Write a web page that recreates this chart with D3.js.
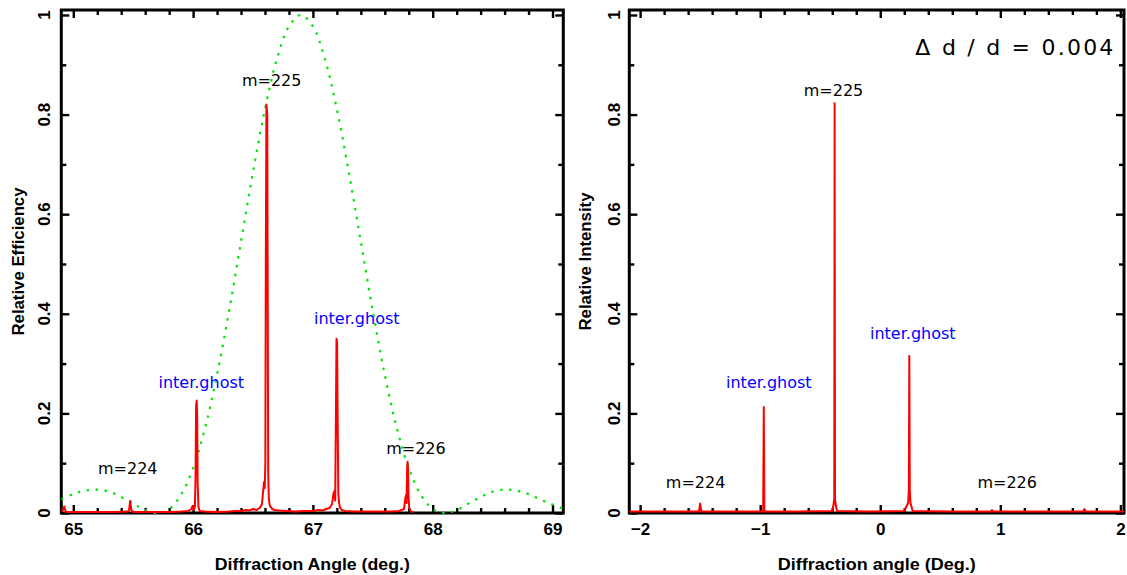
<!DOCTYPE html>
<html>
<head>
<meta charset="utf-8">
<script src="https://cdn.jsdelivr.net/npm/d3@7"></script>
<style>
  html, body { margin: 0; padding: 0; background: #fff; }
  svg { display: block; }
</style>
</head>
<body>
<svg id="chart" width="1127" height="575"></svg>
<script>
// ---------- Left panel: measured efficiency (angle in deg., relative efficiency) ----------
const efficiencyTrace = [
  [64.900,0.003],[64.915,0.006],[64.925,0.013],[64.935,0.004],[64.950,0.002],
  [65.05,0.002],[65.15,0.002],[65.25,0.002],[65.35,0.002],[65.45,0.003],
  [65.465,0.005],[65.475,0.024],[65.485,0.006],[65.50,0.002],
  [65.60,0.002],[65.70,0.002],[65.80,0.002],[65.90,0.003],[65.96,0.004],
  [65.985,0.008],[65.995,0.014],[66.005,0.006],[66.015,0.012],[66.021,0.08],
  [66.025,0.215],[66.030,0.226],[66.034,0.20],[66.038,0.06],[66.045,0.012],[66.055,0.004],
  [66.10,0.003],[66.20,0.002],[66.30,0.003],[66.35,0.004],[66.40,0.004],[66.44,0.006],
  [66.47,0.005],[66.50,0.008],[66.53,0.006],[66.56,0.011],[66.575,0.018],[66.585,0.045],
  [66.592,0.062],[66.598,0.05],[66.603,0.10],[66.607,0.50],[66.612,0.82],[66.619,0.80],
  [66.623,0.42],[66.627,0.08],[66.632,0.03],[66.640,0.015],[66.650,0.012],[66.660,0.008],
  [66.68,0.006],[66.72,0.005],[66.78,0.004],[66.85,0.003],[66.92,0.004],[67.00,0.004],
  [67.05,0.006],[67.08,0.005],[67.11,0.008],[67.14,0.010],[67.16,0.018],[67.172,0.040],
  [67.180,0.044],[67.186,0.025],[67.192,0.19],[67.197,0.35],[67.202,0.34],[67.207,0.18],
  [67.212,0.04],[67.218,0.022],[67.225,0.012],[67.24,0.006],[67.27,0.004],[67.35,0.003],
  [67.45,0.003],[67.55,0.003],[67.65,0.003],[67.72,0.004],[67.76,0.008],[67.772,0.030],
  [67.778,0.036],[67.782,0.020],[67.786,0.085],[67.790,0.103],[67.794,0.090],[67.798,0.035],
  [67.804,0.010],[67.815,0.004],[67.83,0.002],[67.84,0.002]
];

// Single-slit blaze envelope (dotted green), sampled every 0.1 deg.
const envelopeAngles = [
  64.9,65.0,65.1,65.2,65.3,65.4,65.5,65.6,65.7,65.8,65.9,66.0,66.1,66.2,66.3,66.4,66.5,
  66.6,66.7,66.8,66.9,67.0,67.1,67.2,67.3,67.4,67.5,67.6,67.7,67.8,67.9,68.0,68.1,68.2,
  68.3,68.4,68.5,68.6,68.7,68.8,68.9,69.0,69.1
];
const envelopeValues = [
  0.027,0.038,0.045,0.047,0.043,0.032,0.019,0.006,0.000,0.008,0.037,0.090,0.171,0.278,
  0.405,0.545,0.684,0.811,0.912,0.977,1.000,0.977,0.912,0.811,0.684,0.545,0.405,0.278,
  0.171,0.090,0.037,0.008,0.000,0.006,0.019,0.032,0.043,0.047,0.045,0.038,0.027,0.017,0.008
];

// ---------- Right panel: simulated intensity for Δd/d = 0.004 ----------
const intensityTrace = [
  [-2.09,0.003],[-1.80,0.003],[-1.51,0.003],[-1.50,0.019],[-1.49,0.003],
  [-1.20,0.003],[-0.975,0.003],[-0.970,0.213],[-0.965,0.003],
  [-0.70,0.003],[-0.40,0.004],[-0.390,0.015],[-0.383,0.030],[-0.380,0.823],
  [-0.377,0.030],[-0.370,0.015],[-0.360,0.004],
  [-0.10,0.003],[0.20,0.004],[0.232,0.020],[0.238,0.045],[0.242,0.315],[0.246,0.045],
  [0.252,0.020],[0.270,0.004],
  [0.60,0.003],[0.92,0.003],[0.93,0.006],[0.94,0.003],
  [1.30,0.003],[1.69,0.003],[1.70,0.008],[1.71,0.003],[2.03,0.003]
];

// Axis ticks
const leftMajor = [65, 66, 67, 68, 69];
const rightMajor = [-2, -1, 0, 1, 2];
const yMajor = [0, 0.2, 0.4, 0.6, 0.8, 1];
const yMinor = [0.1, 0.3, 0.5, 0.7, 0.9];

// Peak annotations (anchored in data units)
const leftNotes = [
  { text: "m=224", x: 65.455, y: 0.078, color: "#000" },
  { text: "inter.ghost", x: 66.068, y: 0.251, color: "#0000ff" },
  { text: "m=225", x: 66.656, y: 0.857, color: "#000" },
  { text: "inter.ghost", x: 67.366, y: 0.380, color: "#0000ff" },
  { text: "m=226", x: 67.860, y: 0.118, color: "#000" }
];
const rightNotes = [
  { text: "m=224", x: -1.538, y: 0.050, color: "#000" },
  { text: "inter.ghost", x: -0.928, y: 0.250, color: "#0000ff" },
  { text: "m=225", x: -0.389, y: 0.838, color: "#000" },
  { text: "inter.ghost", x: 0.271, y: 0.349, color: "#0000ff" },
  { text: "m=226", x: 1.057, y: 0.050, color: "#000" }
];

// ---------- drawing ----------
const svg = d3.select("#chart");
const defs = svg.append("defs");
const TOP = 10, BOTTOM = 513;
const BOLD = "'Liberation Sans', Arial, sans-serif";
const PLAIN = "'DejaVu Sans', sans-serif";

function drawPanel(cfg) {
  const x = d3.scaleLinear().domain(cfg.xDomain).range([cfg.left, cfg.right]);
  const y = d3.scaleLinear().domain([0, 1.01]).range([BOTTOM, TOP]);
  const g = svg.append("g");

  defs.append("clipPath").attr("id", cfg.id + "-clip")
    .append("rect")
    .attr("x", cfg.left).attr("y", TOP)
    .attr("width", cfg.right - cfg.left).attr("height", BOTTOM - TOP + 1.5);

  const xMinor = d3.range(cfg.xMajor[0], cfg.xMajor[cfg.xMajor.length - 1] + 0.001, 0.2)
    .filter(v => Math.abs(v - Math.round(v)) > 1e-6);

  const styleTicks = sel => {
    sel.select(".domain").remove();
    sel.selectAll(".tick line").attr("stroke", "#000").attr("stroke-width", 2.4);
  };
  const ticks = (axis, vals, len, tx, ty) => {
    g.append("g").attr("transform", `translate(${tx},${ty})`)
      .call(axis.tickValues(vals).tickSizeInner(-len).tickSizeOuter(0).tickFormat(""))
      .call(styleTicks);
  };

  // bottom axis with labels
  g.append("g").attr("transform", `translate(0,${BOTTOM})`)
    .call(d3.axisBottom(x).tickValues(cfg.xMajor).tickSizeInner(-8).tickSizeOuter(0)
      .tickPadding(10).tickFormat(d3.format("")))
    .call(styleTicks)
    .call(s => s.selectAll("text")
      .attr("font-family", BOLD).attr("font-weight", "bold")
      .attr("font-size", 17).attr("fill", "#000"));
  ticks(d3.axisBottom(x), xMinor, 5, 0, BOTTOM);
  ticks(d3.axisTop(x), cfg.xMajor, 8, 0, TOP);
  ticks(d3.axisTop(x), xMinor, 5, 0, TOP);
  ticks(d3.axisLeft(y), yMajor, 8, cfg.left, 0);
  ticks(d3.axisLeft(y), yMinor, 5, cfg.left, 0);
  ticks(d3.axisRight(y), yMajor, 8, cfg.right, 0);
  ticks(d3.axisRight(y), yMinor, 5, cfg.right, 0);

  // rotated y tick labels
  g.selectAll("text.ylab").data(yMajor).join("text")
    .attr("class", "ylab")
    .attr("transform", d => `translate(${cfg.left - cfg.yLabelGap},${y(d)}) rotate(-90)`)
    .attr("text-anchor", "middle")
    .attr("font-family", BOLD).attr("font-weight", "bold").attr("font-size", 17)
    .attr("fill", "#000")
    .text(d3.format(""));

  // frame
  g.append("rect")
    .attr("x", cfg.left).attr("y", TOP)
    .attr("width", cfg.right - cfg.left).attr("height", BOTTOM - TOP)
    .attr("fill", "none").attr("stroke", "#000").attr("stroke-width", 3);

  const plot = g.append("g").attr("clip-path", `url(#${cfg.id}-clip)`);

  if (cfg.envelope) {
    const env = d3.zip(envelopeAngles, envelopeValues);
    plot.append("path")
      .datum(env)
      .attr("fill", "none")
      .attr("stroke", "#00e400")
      .attr("stroke-width", 2.2)
      .attr("stroke-dasharray", "2.5,6.5")
      .attr("d", d3.line().x(d => x(d[0])).y(d => y(d[1])).curve(d3.curveCatmullRom));
  }

  plot.append("path")
    .datum(cfg.trace)
    .attr("fill", "none")
    .attr("stroke", "#ff0000")
    .attr("stroke-width", 2)
    .attr("stroke-linejoin", "round")
    .attr("d", d3.line().x(d => x(d[0])).y(d => y(d[1])));

  // peak annotations
  g.selectAll("text.note").data(cfg.notes).join("text")
    .attr("class", "note")
    .attr("x", d => x(d.x)).attr("y", d => y(d.y))
    .attr("text-anchor", "middle")
    .attr("font-family", PLAIN).attr("font-size", 16)
    .attr("fill", d => d.color)
    .text(d => d.text);

  // axis titles
  g.append("text")
    .attr("x", (cfg.left + cfg.right) / 2).attr("y", 570)
    .attr("text-anchor", "middle")
    .attr("font-family", BOLD).attr("font-weight", "bold").attr("font-size", 16)
    .attr("textLength", cfg.xTitleLen).attr("lengthAdjust", "spacingAndGlyphs")
    .attr("fill", "#000")
    .text(cfg.xTitle);
  g.append("text")
    .attr("transform", `translate(${cfg.yTitleX},${(TOP + BOTTOM) / 2}) rotate(-90)`)
    .attr("text-anchor", "middle")
    .attr("font-family", BOLD).attr("font-weight", "bold").attr("font-size", 16)
    .attr("textLength", cfg.yTitleLen).attr("lengthAdjust", "spacingAndGlyphs")
    .attr("fill", "#000")
    .text(cfg.yTitle);

  return { x, y, g };
}

drawPanel({
  id: "eff", left: 61.3, right: 563.3, xDomain: [64.9, 69.09], xMajor: leftMajor,
  trace: efficiencyTrace, envelope: true, notes: leftNotes, yLabelGap: 11.3,
  xTitle: "Diffraction Angle (deg.)", xTitleLen: 195,
  yTitle: "Relative Efficiency", yTitleLen: 148, yTitleX: 23.5
});

const right = drawPanel({
  id: "int", left: 629.3, right: 1124, xDomain: [-2.09, 2.03], xMajor: rightMajor,
  trace: intensityTrace, envelope: false, notes: rightNotes, yLabelGap: 9.3,
  xTitle: "Diffraction angle (Deg.)", xTitleLen: 198,
  yTitle: "Relative Intensity", yTitleLen: 138, yTitleX: 591
});

right.g.append("text")
  .attr("x", right.x(1.117)).attr("y", right.y(0.92))
  .attr("text-anchor", "middle")
  .attr("font-family", PLAIN).attr("font-size", 22)
  .attr("textLength", 198).attr("lengthAdjust", "spacing")
  .attr("fill", "#000")
  .text("Δ d / d = 0.004");
</script>
</body>
</html>
